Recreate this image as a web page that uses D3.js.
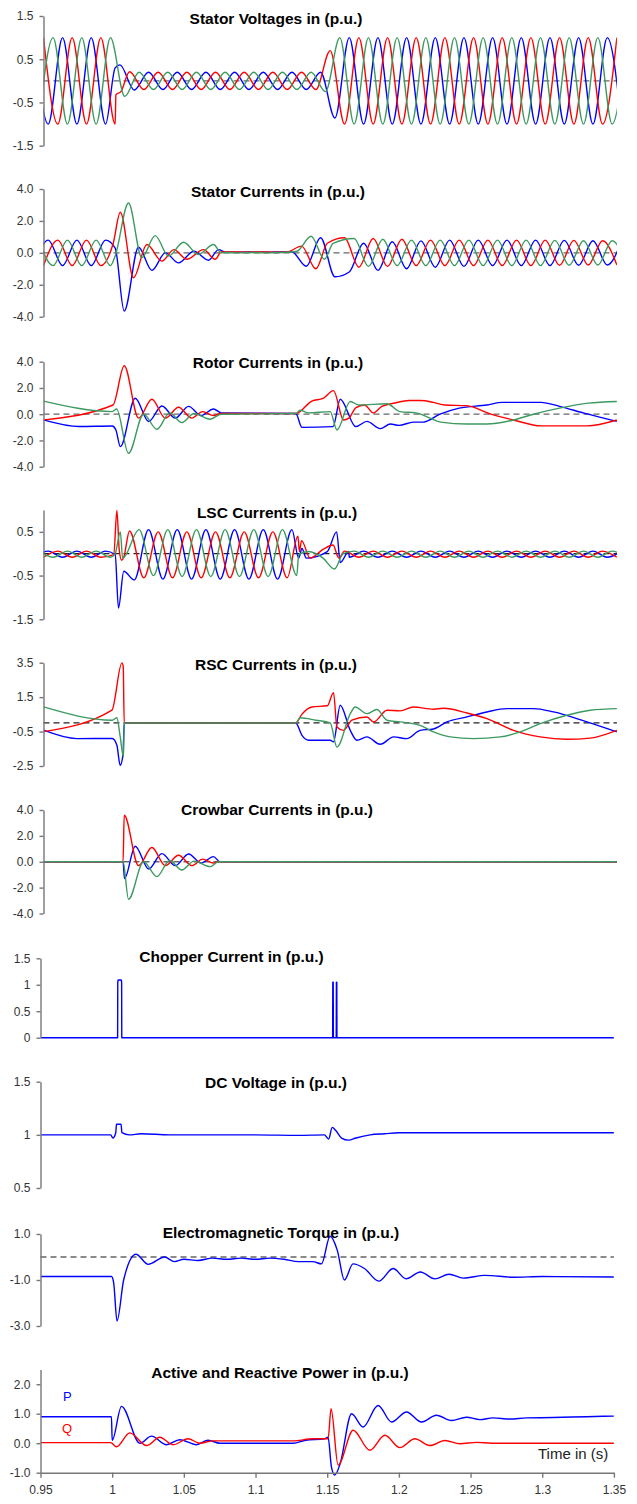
<!DOCTYPE html>
<html>
<head>
<meta charset="utf-8">
<script src="https://cdn.jsdelivr.net/npm/d3@7"></script>
<style>
body { margin: 0; background: #fff; }
svg text { font-family: "Liberation Sans", Arial, sans-serif; }
</style>
</head>
<body>
<svg id="chart" width="637" height="1504"></svg>
<script>
// extremum times of the three phases (50 Hz)
const tR = [0.95,0.96,0.97,0.98,0.99,1.00,1.01,1.02,1.03,1.04,1.05,1.06,1.07,1.08,1.09,1.10,1.11,1.12,1.13,1.14,1.15,1.16,1.17,1.18,1.19,1.20,1.21,1.22,1.23,1.24,1.25,1.26,1.27,1.28,1.29,1.30,1.31,1.32,1.33,1.34,1.35];
const tG = [0.9467,0.9567,0.9667,0.9767,0.9867,0.9967,1.0067,1.0167,1.0267,1.0367,1.0467,1.0567,1.0667,1.0767,1.0867,1.0967,1.1067,1.1167,1.1267,1.1367,1.1467,1.1567,1.1667,1.1767,1.1867,1.1967,1.2067,1.2167,1.2267,1.2367,1.2467,1.2567,1.2667,1.2767,1.2867,1.2967,1.3067,1.3167,1.3267,1.3367,1.3467,1.3567];
const tB = [0.9433,0.9533,0.9633,0.9733,0.9833,0.9933,1.0033,1.0133,1.0233,1.0333,1.0433,1.0533,1.0633,1.0733,1.0833,1.0933,1.1033,1.1133,1.1233,1.1333,1.1433,1.1533,1.1633,1.1733,1.1833,1.1933,1.2033,1.2133,1.2233,1.2333,1.2433,1.2533,1.2633,1.2733,1.2833,1.2933,1.3033,1.3133,1.3233,1.3333,1.3433,1.3533];

// stator voltages
const svR = [1,-1,1,-1,1,-1,.21,
  -.2,.2,-.2,.2,-.2,.2,-.2,.2,-.2,.2,-.2,.2,-.2,
  .7,
  -1,1,-1,1,-1,1,-1,1,-1,1,-1,1,-1,1,-1,1,-1,1,-1,1];
const svRx = [[1.0005,-.32],[1.004,-.25]];
const svG = [-1,1,-1,1,-1,1,-.36,.2,
  -.2,.2,-.2,.2,-.2,.2,-.2,.2,-.2,.2,-.2,.2,
  -.25,1,
  -1,1,-1,1,-1,1,-1,1,-1,1,-1,1,-1,1,-1,1,-1,1,-1,1];
const svB = [1,-1,1,-1,1,-1,.37,-.21,
  .2,-.2,.2,-.2,.2,-.2,.2,-.2,.2,-.2,.2,-.2,.2,
  -.86,
  1,-1,1,-1,1,-1,1,-1,1,-1,1,-1,1,-1,1,-1,1,-1,1,-1];
const svBx = [[1.0,.3]];

// stator currents
const scR = [-.8,.8,-.8,.8,-.8,
  null,null,null,null,null,null,null,null,
  .06,.04,.06,.04,.06,
  .42,-1,null,
  .95,-.9,.9,-.85,.85,-.8,.8,-.8,.8,-.8,.8,-.8,.8,-.8,.8,-.78,.78,-.76,.76,-.76];
const scRx = [[0.9985,.55],[1.0036,2.54],[1.0128,-1.56],[1.0221,.52],[1.0326,-.52],[1.041,.2],[1.05,-.4],[1.0616,.2],[1.0698,-.4],[1.074,.05],[1.148,.6]];
const scG = [.8,-.8,.8,-.8,.8,-.8,
  null,null,null,null,null,null,null,
  .02,0,.02,0,.02,
  .1,1.04,null,null,
  .9,-.85,.85,-.8,.8,-.8,.8,-.8,.8,-.8,.8,-.8,.8,-.8,.78,-.78,.76,-.76,.76,-.76];
const scGx = [[1.0,-.2],[1.0093,3.12],[1.0186,-.3],[1.0279,1.08],[1.0372,-.2],[1.0477,.66],[1.058,-.1],[1.0686,.52],[1.074,0],[1.146,-.4],[1.152,.6]];
const scB = [-.8,.8,-.8,.8,-.8,.8,
  null,null,null,null,null,null,null,null,
  .04,.05,.04,.05,
  .05,-.84,.95,-1.5,
  -1.2,.6,-1.1,.7,-1,.75,-.9,.8,-.85,.8,-.8,.8,-.8,.8,-.8,.78,-.78,.76,-.76,.76];
const scBx = [[1.0,.3],[1.0063,-3.65],[1.0163,.35],[1.0256,-1.1],[1.035,0],[1.0442,-.63],[1.055,.1],[1.0651,-.46],[1.0721,.2],[1.077,.04]];

// rotor currents
const rrR = [[0.95,-.43],[0.9985,.7],[1.0063,3.69],[1.0163,-.3],[1.0256,1.14],[1.035,-.3],[1.0442,.53],[1.0535,-.3],[1.061,.2],[1.0686,-.1],[1.074,.05],[1.126,.05],[1.1372,1.0],[1.145,1.2],[1.1523,1.8],[1.1593,-.44],[1.163,-.3],[1.168,.5],[1.174,.7],[1.18,.1],[1.186,.6],[1.195,.85],[1.205,1.04],[1.213,1.04],[1.222,.9],[1.23,.7],[1.245,.65],[1.262,0],[1.278,-.44],[1.297,-.89],[1.329,-.89],[1.35,-.44]];
const rrG = [[0.95,1.0],[0.998,.2],[1.001,.4],[1.0093,-2.98],[1.0198,0],[1.0291,-1.15],[1.038,.1],[1.0465,-.64],[1.055,.05],[1.0663,-.38],[1.074,0],[1.126,.05],[1.129,.3],[1.135,.1],[1.15,.2],[1.1547,-1.2],[1.164,.97],[1.17,.7],[1.1896,.8],[1.1988,.2],[1.21,.1],[1.2197,-.3],[1.227,-.6],[1.2454,-.75],[1.2593,-.75],[1.2779,-.44],[1.2918,0],[1.31,.46],[1.33,.84],[1.35,.97]];
const rrB = [[0.95,-.43],[0.975,-.94],[0.998,-.9],[1.0005,-1.2],[1.0036,-2.47],[1.014,1.22],[1.0233,-.56],[1.0326,.63],[1.0419,-.3],[1.0512,.6],[1.06,-.1],[1.0686,.4],[1.074,.1],[1.126,.05],[1.1303,-1.0],[1.152,-.95],[1.157,1.14],[1.1679,-.95],[1.1756,-.55],[1.1849,-1.1],[1.192,-.75],[1.198,-.85],[1.208,-.6],[1.215,-.6],[1.2266,0],[1.24,.46],[1.2593,.7],[1.27,.9],[1.297,.9],[1.31,.6],[1.327,.08],[1.35,-.55]];

// LSC currents
const lsR = [-.08,.06,-.08,.06,-.08,null,
  .52,-.55,.5,-.55,.5,-.55,.5,-.55,.5,-.55,.5,-.55,
  .3,null,null,
  .06,-.08,.06,-.08,.06,-.08,.06,-.08,.06,-.08,.06,-.08,.06,-.08,.06,-.08,.06,-.08,.06,-.08];
const lsRx = [[0.999,-.02],[1.0012,.99],[1.0028,.1],[1.0045,-.15],[1.006,-.08],[1.1275,.4],[1.1285,.05],[1.136,-.1],[1.145,.1],[1.152,.2],[1.156,-.1]];
const lsG = [.06,-.08,.06,-.08,.06,-.08,null,
  .55,-.5,.55,-.52,.55,-.52,.55,-.52,.55,-.52,.55,-.5,
  null,null,null,
  .06,-.08,.06,-.08,.06,-.08,.06,-.08,.06,-.08,.06,-.08,.06,-.08,.06,-.08,.06,-.08,.06,-.08];
const lsGx = [[1.0,0],[1.0036,.5],[1.0052,-.1],[1.128,-.02],[1.135,.05],[1.145,-.1],[1.153,-.35],[1.159,0]];
const lsB = [-.08,.06,-.08,.06,-.08,.06,null,
  -.6,.55,-.58,.55,-.58,.55,-.58,.55,-.58,.55,-.58,.55,
  -.1,null,null,
  -.08,.06,-.08,.06,-.08,.06,-.08,.06,-.08,.06,-.08,.06,-.08,.06,-.08,.06,-.08,.06,-.08,.06];
const lsBx = [[1.0,-.02],[1.0023,-1.24],[1.006,-.4],[1.128,-.1],[1.1303,.12],[1.148,.05],[1.1545,.5],[1.157,-.2],[1.163,.05]];

// RSC currents
const rsR = [[0.95,-.5],[0.9977,.74],[1.0047,3.49],[1.0056,3.3],[1.0063,0],[1.126,0],[1.1302,.5],[1.1372,.93],[1.148,1.0],[1.1523,1.76],[1.1547,-.23],[1.1593,-.43],[1.1651,.16],[1.1756,.35],[1.1803,.06],[1.1896,.74],[1.1988,.7],[1.2081,.93],[1.222,.8],[1.229,.85],[1.2454,.58],[1.2593,.25],[1.2779,-.43],[1.2965,-.81],[1.315,-.95],[1.3314,-.88],[1.35,-.43]];
const rsG = [[0.95,.93],[0.998,.16],[1.0012,.3],[1.0035,-.8],[1.0058,-1.98],[1.0063,0],[1.126,0],[1.129,.3],[1.14,.16],[1.15,0],[1.1547,-1.4],[1.164,.54],[1.1674,.93],[1.1756,.54],[1.1826,.78],[1.1896,.16],[1.1988,.06],[1.2127,-.14],[1.222,-.52],[1.2337,-.81],[1.25,-.91],[1.2686,-.81],[1.2825,-.52],[1.2965,-.04],[1.315,.45],[1.3314,.74],[1.35,.83]];
const rsB = [[0.95,-.42],[0.9733,-.91],[0.998,-.9],[1.0012,-1.3],[1.0035,-2.46],[1.0055,-1.8],[1.0063,0],[1.126,0],[1.1303,-.72],[1.135,-1.0],[1.15,-1.0],[1.1523,-1.1],[1.157,1.03],[1.164,-.43],[1.1686,-1.0],[1.1756,-.81],[1.1849,-1.24],[1.1942,-.81],[1.2034,-.91],[1.2127,-.43],[1.222,-.35],[1.2314,.06],[1.2454,.35],[1.2593,.64],[1.2732,.83],[1.2918,.83],[1.3058,.64],[1.329,.06],[1.35,-.52]];

// crowbar currents
const cbR = [[0.95,0],[1.0055,0],[1.0063,3.6],[1.0163,-.3],[1.0256,1.1],[1.035,-.3],[1.0442,.5],[1.0535,-.3],[1.061,.2],[1.0686,-.1],[1.072,0],[1.35,0]];
const cbG = [[0.95,0],[1.0055,0],[1.0093,-2.9],[1.0198,0],[1.0291,-1.15],[1.038,.1],[1.0465,-.64],[1.055,.05],[1.0663,-.38],[1.072,0],[1.35,0]];
const cbB = [[0.95,0],[1.0055,0],[1.0065,-1.3],[1.014,1.2],[1.0233,-.56],[1.0326,.63],[1.0419,-.3],[1.0512,.6],[1.06,-.1],[1.0686,.4],[1.073,0],[1.35,0]];

// chopper current, dc voltage, torque, powers
const chop = [[0.95,0],[1.0038,0],[1.0039,1.05],[1.0042,1.09],[1.0063,1.09],[1.0066,1.05],[1.0067,0],[1.1538,0],[1.1539,1.05],[1.1542,1.05],[1.1543,0],[1.1563,0],[1.1564,1.05],[1.1567,1.05],[1.1568,0],[1.35,0]];
const vdc = [[0.95,1.0],[0.999,1.0],[1.0005,.97],[1.0025,1.02],[1.003,1.1],[1.0062,1.1],[1.0068,1.02],[1.012,1.0],[1.02,1.01],[1.04,1.0],[1.1,1.0],[1.13,.995],[1.148,1.0],[1.151,.96],[1.1535,1.07],[1.156,1.04],[1.16,.97],[1.165,.95],[1.17,.97],[1.18,1.0],[1.19,1.01],[1.2,1.02],[1.25,1.02],[1.35,1.02]];
const torque = [[0.95,-.85],[0.9995,-.85],[1.001,-1.1],[1.0034,-2.78],[1.008,-1.0],[1.0166,.12],[1.0251,-.32],[1.0365,0],[1.0435,-.2],[1.05,-.1],[1.06,-.15],[1.07,-.05],[1.08,-.1],[1.09,-.05],[1.1,-.1],[1.11,-.05],[1.12,-.1],[1.13,-.2],[1.14,-.2],[1.146,-.3],[1.152,.9],[1.157,.3],[1.162,-1.0],[1.168,-.3],[1.176,-.5],[1.186,-1.05],[1.196,-.5],[1.205,-.95],[1.215,-.65],[1.225,-.95],[1.235,-.75],[1.245,-.92],[1.26,-.8],[1.28,-.88],[1.3,-.85],[1.35,-.87]];
const pP = [[0.95,.9],[0.9995,.9],[1.0,.1],[1.0065,1.25],[1.0193,0],[1.0274,.24],[1.0379,-.05],[1.0472,.12],[1.0588,-.05],[1.0669,.1],[1.0751,0],[1.1262,0],[1.135,.1],[1.148,.15],[1.1506,.2],[1.153,-.82],[1.1553,-1.08],[1.159,-.7],[1.167,1.0],[1.175,.55],[1.1855,1.28],[1.1949,.72],[1.2053,1.06],[1.2158,.72],[1.2262,.95],[1.2367,.77],[1.2472,.88],[1.2565,.8],[1.2657,.86],[1.2774,.82],[1.289,.86],[1.3076,.87],[1.3309,.9],[1.35,.92]];
const qQ = [[0.95,.02],[0.999,.02],[1.003,-.12],[1.0123,.35],[1.024,-.08],[1.0332,.2],[1.0425,-.05],[1.053,.15],[1.0611,0],[1.0704,.08],[1.1262,.08],[1.14,.15],[1.1506,.15],[1.1527,1.17],[1.1576,-.74],[1.1681,.44],[1.1797,-.24],[1.1902,.27],[1.2007,-.15],[1.2111,.15],[1.2216,-.08],[1.2321,.09],[1.2425,-.02],[1.2542,.03],[1.265,0],[1.35,0]];

const xTicks = [0.95,1,1.05,1.1,1.15,1.2,1.25,1.3,1.35];
const xLabels = ["0.95","1","1.05","1.1","1.15","1.2","1.25","1.3","1.35"];
const titles = ["Stator Voltages in (p.u.)","Stator Currents in (p.u.)","Rotor Currents in (p.u.)","LSC Currents in (p.u.)","RSC Currents in (p.u.)","Crowbar Currents in (p.u.)","Chopper Current in (p.u.)","DC Voltage in (p.u.)","Electromagnetic Torque in (p.u.)","Active and Reactive Power in (p.u.)"];
const yTicks = [[1.5,.5,-.5,-1.5],[4,2,0,-2,-4],[4,2,0,-2,-4],[.5,-.5,-1.5],[3.5,1.5,-.5,-2.5],[4,2,0,-2,-4],[1.5,1,.5,0],[1.5,1,.5],[1,-1,-3],[2,1,0,-1]];
const yLabels = [["1.5","0.5","-0.5","-1.5"],["4.0","2.0","0.0","-2.0","-4.0"],["4.0","2.0","0.0","-2.0","-4.0"],["0.5","-0.5","-1.5"],["3.5","1.5","-0.5","-2.5"],["4.0","2.0","0.0","-2.0","-4.0"],["1.5","1","0.5","0"],["1.5","1","0.5"],["1.0","-1.0","-3.0"],["2.0","1.0","0.0","-1.0"]];

const RED = "#ff0000", GREEN = "#3c9a60", BLUE = "#0000ff";

function pts(ts, vs, extra) {
  const p = [];
  ts.forEach((t, i) => { if (vs[i] != null) p.push([t, vs[i]]); });
  return p.concat(extra || []).sort((a, b) => a[0] - b[0]);
}

const panels = [
  {dom:[-1.5,1.5], top:16, bot:145.7, left:43.5, tx:276, ty:24, zero:true,
   series:[[BLUE,pts(tB,svB,svBx)],[RED,pts(tR,svR,svRx)],[GREEN,pts(tG,svG)]]},
  {dom:[-4,4], top:189, bot:316.7, left:43.5, tx:278, ty:197, zero:true,
   series:[[BLUE,pts(tB,scB,scBx)],[RED,pts(tR,scR,scRx)],[GREEN,pts(tG,scG,scGx)]]},
  {dom:[-4,4], top:361.7, bot:466.7, left:43.5, tx:278, ty:368, zero:true,
   series:[[BLUE,rrB],[RED,rrR],[GREEN,rrG]]},
  {dom:[-1.5,1], top:510, bot:619.3, left:43.5, tx:277, ty:517.5, zero:true, dark:true,
   series:[[BLUE,pts(tB,lsB,lsBx)],[RED,pts(tR,lsR,lsRx)],[GREEN,pts(tG,lsG,lsGx)]]},
  {dom:[-2.5,3.5], top:662.7, bot:766, left:43.5, tx:276, ty:669.5, zero:true, dark:true,
   series:[[BLUE,rsB],[RED,rsR],[GREEN,rsG]]},
  {dom:[-4,4], top:810, bot:913.5, left:43.5, tx:277, ty:815, zero:true,
   series:[[BLUE,cbB],[RED,cbR],[GREEN,cbG]]},
  {dom:[0,1.5], top:958.3, bot:1037.7, left:40.5, tx:231.5, ty:962, linear:true,
   series:[[BLUE,chop]]},
  {dom:[.5,1.5], top:1081.7, bot:1188, left:40.5, tx:276, ty:1088,
   series:[[BLUE,vdc]]},
  {dom:[-3,1], top:1234, bot:1326, left:40.5, tx:281, ty:1237.5, zero:true,
   series:[[BLUE,torque]]},
  {dom:[-1,2.5], top:1369.5, bot:1472.7, left:40.5, tx:280, ty:1378,
   series:[[BLUE,pP],[RED,qQ]]}
];

const svg = d3.select("#chart");

panels.forEach((p, k) => {
  const x = d3.scaleLinear().domain([0.95, 1.35]).range([p.left, p.left + 573.4]);
  const y = d3.scaleLinear().domain(p.dom).range([p.bot, p.top]);
  const g = svg.append("g");

  g.append("clipPath").attr("id", "clip" + k)
    .append("rect")
      .attr("x", x(0.95)).attr("y", p.top - 10)
      .attr("width", x(1.35) - x(0.95)).attr("height", p.bot - p.top + 20);

  g.append("text")
    .attr("x", p.tx).attr("y", p.ty)
    .attr("text-anchor", "middle")
    .style("font-size", "15.5px").style("font-weight", "bold")
    .text(titles[k]);

  if (p.zero) {
    g.append("line")
      .attr("x1", x(0.95)).attr("x2", x(1.35))
      .attr("y1", y(0)).attr("y2", y(0))
      .attr("stroke", p.dark ? "#222" : "#666")
      .attr("stroke-width", 1.3)
      .attr("stroke-dasharray", "6,4");
  }

  const line = d3.line()
    .x(d => x(d[0])).y(d => y(d[1]))
    .curve(p.linear ? d3.curveLinear : d3.curveMonotoneX);

  p.series.forEach(s => {
    g.append("path")
      .datum(s[1])
      .attr("clip-path", "url(#clip" + k + ")")
      .attr("fill", "none")
      .attr("stroke", s[0])
      .attr("stroke-width", 1.4)
      .attr("stroke-linejoin", "round")
      .attr("d", line);
  });

  const ax = g.append("g")
    .attr("transform", "translate(" + p.left + ",0)")
    .call(d3.axisLeft(y).tickValues(yTicks[k]).tickFormat((d, i) => yLabels[k][i]).tickSize(4).tickSizeOuter(0).tickPadding(6));
  ax.select(".domain").attr("stroke", "#777").attr("stroke-width", 1.4);
  ax.selectAll(".tick line").attr("stroke", "#777").attr("stroke-width", 1.4);
  ax.selectAll("text").style("font-size", "12px").attr("fill", "#333")
    .style("font-family", '"Liberation Sans", Arial, sans-serif');

  if (k === panels.length - 1) {
    const bx = g.append("g")
      .attr("transform", "translate(0," + p.bot + ")")
      .call(d3.axisBottom(x).tickValues(xTicks).tickFormat((d, i) => xLabels[i]).tickSize(5).tickSizeOuter(0).tickPadding(8));
    bx.select(".domain").attr("stroke", "#777").attr("stroke-width", 1.4);
    bx.selectAll(".tick line").attr("stroke", "#777").attr("stroke-width", 1.4);
    bx.selectAll("text").style("font-size", "12px").attr("fill", "#333")
      .style("font-family", '"Liberation Sans", Arial, sans-serif');

    g.append("text").attr("x", 538).attr("y", 1459)
      .style("font-size", "15px").attr("fill", "#222").text("Time in (s)");
    g.append("text").attr("x", 63).attr("y", 1401)
      .style("font-size", "13px").attr("fill", BLUE).text("P");
    g.append("text").attr("x", 62).attr("y", 1433)
      .style("font-size", "13px").attr("fill", RED).text("Q");
  }
});
</script>
</body>
</html>
